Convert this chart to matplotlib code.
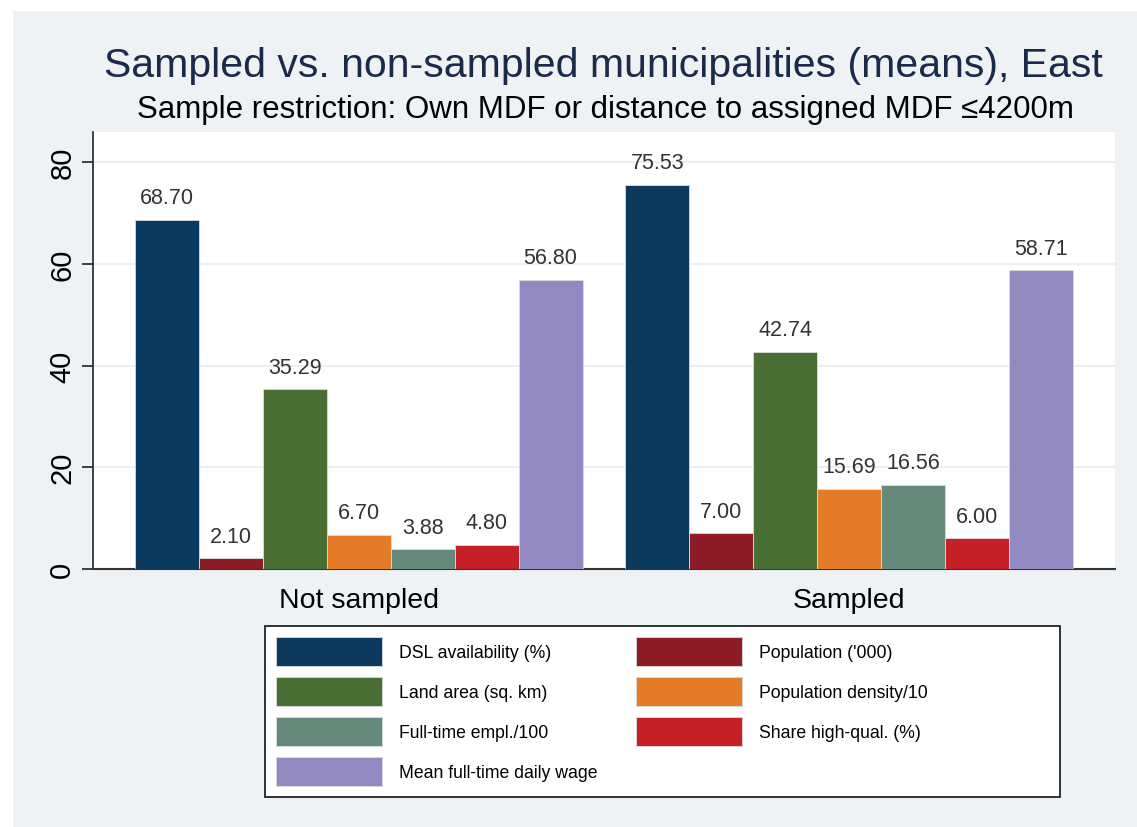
import numpy as np
import matplotlib.pyplot as plt
from matplotlib.patches import Rectangle, Patch

groups = ["Not sampled", "Sampled"]
series = ["DSL availability (%)", "Population ('000)", "Land area (sq. km)",
          "Population density/10", "Full-time empl./100", "Share high-qual. (%)",
          "Mean full-time daily wage"]
not_sampled = [68.70, 2.10, 35.29, 6.70, 3.88, 4.80, 56.80]
sampled = [75.53, 7.00, 42.74, 15.69, 16.56, 6.00, 58.71]
colors = ["#0b3a5e", "#8e1c26", "#4a6f34", "#e47b26", "#64897b", "#c52027", "#9189c0"]

plt.rcParams['font.family'] = ['Liberation Sans', 'DejaVu Sans']

W, H = 1137, 828
fig = plt.figure(figsize=(W / 100, H / 100), dpi=100)
fig.patches.append(Rectangle((13/W, 0), 1, 1 - 12/H, transform=fig.transFigure,
                             facecolor="#eef2f5", edgecolor="none", zorder=-10))

ax = fig.add_axes([93/W, 1 - 570/H, (1115-93)/W, (570-133)/H])
ax.set_facecolor("white")

n = len(series)
gap = 0.67
for i in range(n):
    xs = [i, n + gap + i]
    vals = [not_sampled[i], sampled[i]]
    ax.bar(xs, vals, width=1.0, color=colors[i], edgecolor="#dcdcdc", linewidth=0.6,
           zorder=3, label=series[i])
    for x, v in zip(xs, vals):
        ax.text(x, v + 2.3, "%.2f" % v, ha="center", va="bottom", fontsize=15.5,
                color="#333333", zorder=4)

ax.set_xlim(-0.5 - 0.656, 2 * n - 0.5 + gap + 0.656)
ax.set_ylim(0, 85.9)
ax.set_yticks([0, 20, 40, 60, 80])
ax.tick_params(axis="y", labelsize=21, length=8, width=1.2, color="#222222",
               labelrotation=90, pad=4)
for lab in ax.get_yticklabels():
    lab.set_va("center")
ax.set_xticks([(n - 1) / 2, n + gap + (n - 1) / 2])
ax.set_xticklabels(groups, fontsize=20.5)
ax.tick_params(axis="x", length=0, pad=13)
ax.grid(axis="y", color="#eaf0f3", linewidth=1.5, zorder=0)
ax.set_axisbelow(True)
for s in ["top", "right"]:
    ax.spines[s].set_visible(False)
ax.spines["left"].set_color("#222222")
ax.spines["bottom"].set_color("#333333")
ax.spines["left"].set_linewidth(1.2)
ax.spines["bottom"].set_linewidth(1.5)

fig.text(603/W, 1 - 66/H, "Sampled vs. non-sampled municipalities (means), East",
         ha="center", va="center", fontsize=29.5, color="#1a2a4a")
fig.text(605/W, 1 - 110/H, "Sample restriction: Own MDF or distance to assigned MDF \u22644200m",
         ha="center", va="center", fontsize=22.5, color="black")

# legend frame (wider than its content, as in the original)
fig.patches.append(Rectangle((265/W, 1 - 798/H), (1060-265)/W, (798-627)/H,
                             transform=fig.transFigure, facecolor="white",
                             edgecolor="#222222", linewidth=1.3, zorder=1))

handles = [Patch(facecolor=c, edgecolor="#dcdcdc", linewidth=0.6) for c in colors]
order = [0, 2, 4, 6, 1, 3, 5]
leg = fig.legend([handles[i] for i in order], [series[i] for i in order],
                 ncol=2, loc="upper left", bbox_to_anchor=(255/W, 1 - 617/H),
                 fontsize=12.7, frameon=False,
                 handlelength=6.0, handleheight=2.15, handletextpad=1.0,
                 columnspacing=2.15, labelspacing=0.62, borderpad=0.68)
leg.set_zorder(2)

plt.savefig("out.png", dpi=100)
